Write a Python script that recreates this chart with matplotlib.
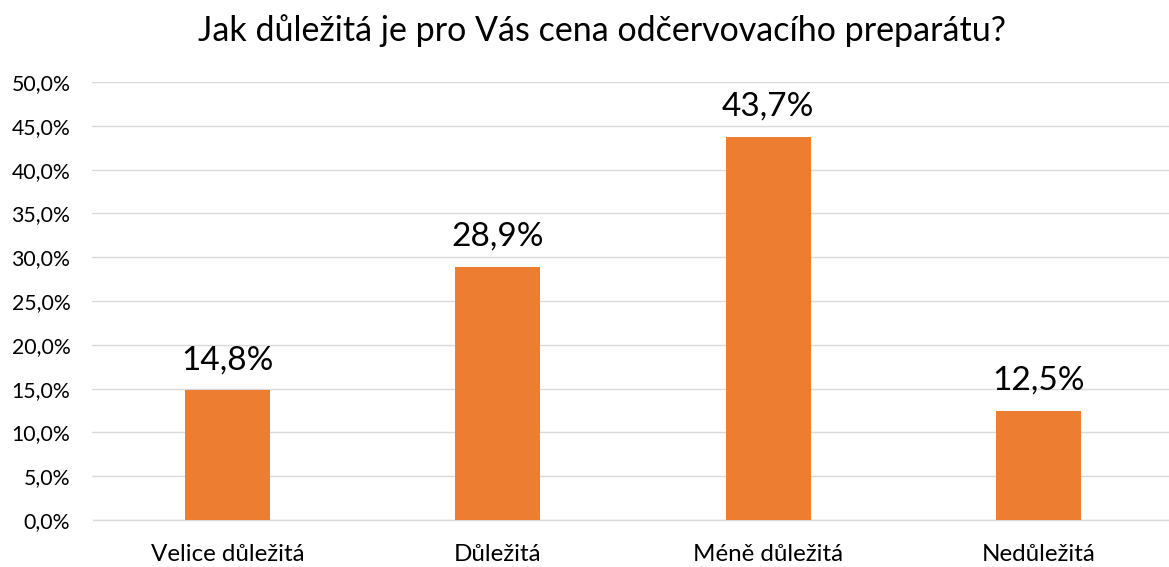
import matplotlib.pyplot as plt
from matplotlib.ticker import FuncFormatter

categories = ['Velice důležitá', 'Důležitá', 'Méně důležitá', 'Nedůležitá']
values = [14.8, 28.9, 43.7, 12.5]
labels = ['14,8%', '28,9%', '43,7%', '12,5%']
yticks = [0, 5, 10, 15, 20, 25, 30, 35, 40, 45, 50]

plt.rcParams['font.family'] = ['Lato', 'DejaVu Sans']

fig = plt.figure(figsize=(11.69, 5.67), dpi=100)
ax = fig.add_axes([92.5 / 1169, 47 / 567, 1081 / 1169, 438 / 567])

x = range(len(categories))
bars = ax.bar(x, values, width=0.315, color='#ED7D31', zorder=3)

for b, lab in zip(bars, labels):
    ax.annotate(lab, (b.get_x() + b.get_width() / 2, b.get_height()),
                xytext=(0, 11), textcoords='offset points',
                ha='center', va='bottom', fontsize=24, color='#000000')

ax.set_xlim(-0.5, 3.5)
ax.set_ylim(0, 50)
ax.set_yticks(yticks)
ax.yaxis.set_major_formatter(FuncFormatter(lambda v, p: f'{v:.1f}%'.replace('.', ',')))
ax.set_xticks(list(x))
ax.set_xticklabels(categories)
ax.tick_params(axis='y', length=0, pad=16, labelsize=15.3, labelcolor='#000000')
ax.tick_params(axis='x', length=0, pad=17, labelsize=17.4, labelcolor='#000000')

ax.grid(axis='y', color='#D9D9D9', linewidth=1.0, zorder=0)
for s in ['top', 'right', 'left']:
    ax.spines[s].set_visible(False)
ax.spines['bottom'].set_color('#D9D9D9')
ax.spines['bottom'].set_linewidth(1.0)

fig.text(602 / 1169, 1 - 31 / 567, 'Jak důležitá je pro Vás cena odčervovacího preparátu?',
         ha='center', va='center', fontsize=24.5, color='#000000')

fig.savefig('out.png', dpi=100)
